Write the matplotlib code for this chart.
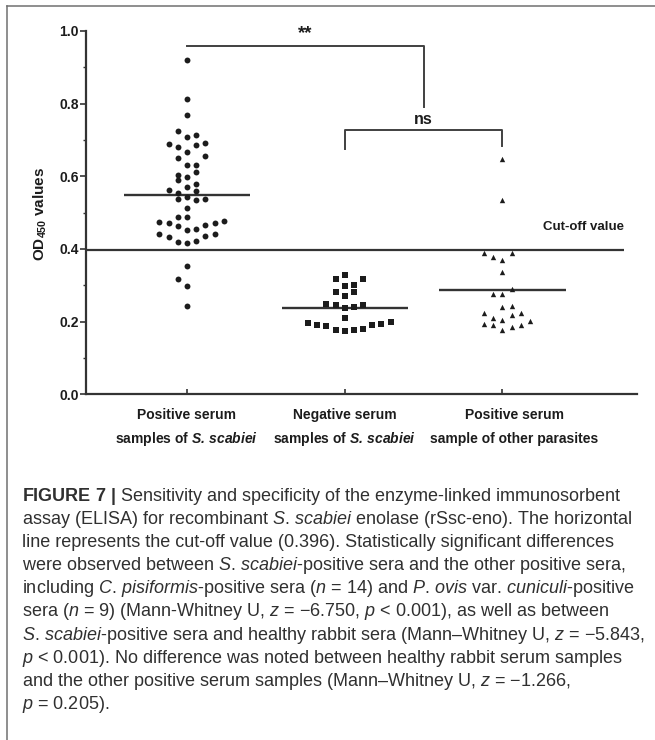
import matplotlib
matplotlib.use("Agg")
import matplotlib.pyplot as plt
from matplotlib.lines import Line2D
from matplotlib.ticker import MultipleLocator, FormatStrFormatter
import numpy as np

plt.rcParams['font.family'] = ['Liberation Sans', 'DejaVu Sans']
plt.rcParams['mathtext.fontset'] = 'custom'
plt.rcParams['mathtext.rm'] = 'Liberation Sans'
plt.rcParams['mathtext.it'] = 'Liberation Sans:italic'
plt.rcParams['mathtext.bf'] = 'Liberation Sans:bold'
plt.rcParams['mathtext.bfit'] = 'Liberation Sans:italic:bold'

# OD450 readings, one list per serum group
pos_scabiei = [0.919, 0.813, 0.768, 0.724, 0.715, 0.708, 0.690, 0.693, 0.687, 0.681,
               0.668, 0.656, 0.650, 0.630, 0.630, 0.612, 0.605, 0.599, 0.589, 0.579,
               0.570, 0.562, 0.555, 0.560, 0.542, 0.537, 0.536, 0.537, 0.512, 0.488,
               0.487, 0.473, 0.471, 0.464, 0.452, 0.454, 0.466, 0.472, 0.477, 0.441,
               0.432, 0.419, 0.4165, 0.423, 0.437, 0.440, 0.353, 0.318, 0.299, 0.243]
neg_scabiei = [0.3275, 0.3165, 0.318, 0.298, 0.301, 0.2817, 0.2817, 0.2706,
               0.2485, 0.2458, 0.2367, 0.2395, 0.2458, 0.209,
               0.1954, 0.190, 0.188, 0.177, 0.175, 0.177, 0.1797, 0.1907, 0.1935, 0.198]
other_parasites = [0.648, 0.534, 0.390, 0.390, 0.377, 0.3697, 0.3366, 0.2907, 0.277, 0.275,
                   0.241, 0.244, 0.223, 0.209, 0.2045, 0.2174, 0.2246,
                   0.1935, 0.190, 0.177, 0.186, 0.190, 0.2018]

# swarm column of each point (in marker widths), as laid out in the original
pos_cols = [0, 0, 0, -1, 1, 0, -2, 2, 1, -1,
            0, 2, -1, 0, 1, 1, -1, 0, -1, 1,
            0, -2, -1, 1, 0, -1, 1, 2, 0, -1,
            0, -3, -2, -1, 0, 1, 2, 3, 4, -3,
            -2, -1, 0, 1, 2, 3, 0, -1, 0, 0]
neg_cols = [0, -1, 2, 0, 1, -1, 1, 0,
            -2, -1, 0, 1, 2, 0,
            -4, -3, -2, -1, 0, 1, 2, 3, 4, 5]
other_cols = [0, 0, -2, 1, -1, 0, 0, 1, -1, 0,
              0, 1, -2, -1, 0, 1, 2,
              -2, -1, 0, 1, 2, 3]

cutoff = 0.396
group_line1 = ["Positive serum", "Negative serum", "Positive serum"]
group_line2 = [r"samples of $\mathbfit{S.\!}$ $\mathbfit{scabiei}$",
               r"samples of $\mathbfit{S.\!}$ $\mathbfit{scabiei}$",
               "sample of other parasites"]

caption = [
    r"$\mathbf{FIGURE}$ $\mathbf{7}$ $\mathbf{|}$ Sensitivity and specificity of the enzyme-linked immunosorbent",
    r"assay (ELISA) for recombinant $\mathit{S.\!}$ $\mathit{scabiei}$ enolase (rSsc-eno). The horizontal",
    "line represents the cut-off value (0.396). Statistically significant differences",
    r"were observed between $\mathit{S.\!}$ $\mathit{scabiei}$-positive sera and the other positive sera,",
    r"including $\mathit{C.\!}$ $\mathit{pisiformis}$-positive sera ($\mathit{n}$ = 14) and $\mathit{P.\!}$ $\mathit{ovis}$ var. $\mathit{cuniculi}$-positive",
    r"sera ($\mathit{n}$ = 9) (Mann-Whitney U, $\mathit{z}$ = −6.750, $\mathit{p}$ < 0.001), as well as between",
    r"$\mathit{S.\!}$ $\mathit{scabiei}$-positive sera and healthy rabbit sera (Mann–Whitney U, $\mathit{z}$ = −5.843,",
    r"$\mathit{p}$ < 0.001). No difference was noted between healthy rabbit serum samples",
    r"and the other positive serum samples (Mann–Whitney U, $\mathit{z}$ = −1.266,",
    r"$\mathit{p}$ = 0.205).",
]

W, H = 655, 740
fig = plt.figure(figsize=(W / 100, H / 100), dpi=100)
ax = fig.add_axes([86 / W, 1 - 394.3 / H, (637 - 86) / W, 363.3 / H])

dark = '#1c1c1c'
line_c = '#333333'
slot = 0.0583

groups = [(pos_scabiei, pos_cols, 'o', 18),
          (neg_scabiei, neg_cols, 's', 17),
          (other_parasites, other_cols, '^', 15)]
for i, (vals, cols, mk, sz) in enumerate(groups):
    x = i + np.array(cols) * slot
    ax.scatter(x, vals, marker=mk, s=sz, color=dark, linewidths=0, zorder=3)
    ax.hlines(np.mean(vals), i - 0.4, i + 0.4, color=line_c, lw=1.7, zorder=2)

xl, xr = -0.640, 2.853
ax.hlines(cutoff, xl, 2.77, color=line_c, lw=1.6, zorder=2)
ax.text(2.77, 0.461, "Cut-off value", ha='right', va='center',
        fontsize=9.5, fontweight='bold', color=dark)

# significance brackets
ax.plot([0, 1.5, 1.5], [0.9595, 0.9595, 0.79], color='#404040', lw=1.4, clip_on=False)
ax.text(0.75, 0.993, "**", ha='center', va='center', fontsize=13.5, fontweight='bold', color=dark)
ax.plot([1, 1, 2, 2], [0.675, 0.7266, 0.7266, 0.684], color='#404040', lw=1.4, clip_on=False)
ax.text(1.5, 0.757, "ns", ha='center', va='center', fontsize=11.5, fontweight='bold', color=dark)

ax.set_xlim(xl, xr)
ax.set_ylim(0, 1.0)
for s in ['top', 'right']:
    ax.spines[s].set_visible(False)
for s in ['left', 'bottom']:
    ax.spines[s].set_color(line_c)
    ax.spines[s].set_linewidth(1.6)

ax.yaxis.set_major_locator(MultipleLocator(0.2))
ax.yaxis.set_minor_locator(MultipleLocator(0.1))
ax.yaxis.set_major_formatter(FormatStrFormatter('%.1f'))
ax.tick_params(axis='y', which='major', direction='out', length=4.5, width=1.2,
               color=line_c, labelsize=10, pad=0.5, labelcolor=dark)
ax.tick_params(axis='y', which='minor', direction='out', length=2.5, width=1.0, color=line_c)
for lab in ax.get_yticklabels():
    lab.set_fontweight('bold')

ax.set_xticks([0, 1, 2])
ax.set_xticklabels([])
ax.tick_params(axis='x', direction='in', length=3.5, width=1.2, color=line_c)

label_x = [0, 1, 2.076]
for i in range(3):
    ax.text(label_x[i], -0.057, group_line1[i], ha='center', va='center',
            fontsize=10, fontweight='bold', color=dark, clip_on=False)
    ax.text(label_x[i], -0.1217, group_line2[i], ha='center', va='center',
            fontsize=10, fontweight='bold', color=dark, clip_on=False)

fig.text(40 / W, 1 - 214 / H, r"OD$_{\mathbf{450}}$ values", rotation=90,
         ha='center', va='center', fontsize=11, fontweight='bold', color=dark)

# frame around figure panel
fig.add_artist(Line2D([7.3 / W, 1.0], [1 - 6 / H, 1 - 6 / H], transform=fig.transFigure,
                      color='#707070', lw=1.1))
fig.add_artist(Line2D([7.3 / W, 7.3 / W], [0, 1 - 6 / H], transform=fig.transFigure,
                      color='#707070', lw=1.1))

cap_texts = []
for i, line in enumerate(caption):
    t = fig.text(22 / W, 1 - (501 + 23.1 * i) / H, line, ha='left', va='baseline',
                 fontsize=12, color='#303030')
    cap_texts.append(t)
fig.canvas.draw()
w0 = cap_texts[0].get_window_extent().width
fs = 12 * 600 / w0
for t in cap_texts:
    t.set_fontsize(fs)

fig.savefig("out.png", dpi=100)
